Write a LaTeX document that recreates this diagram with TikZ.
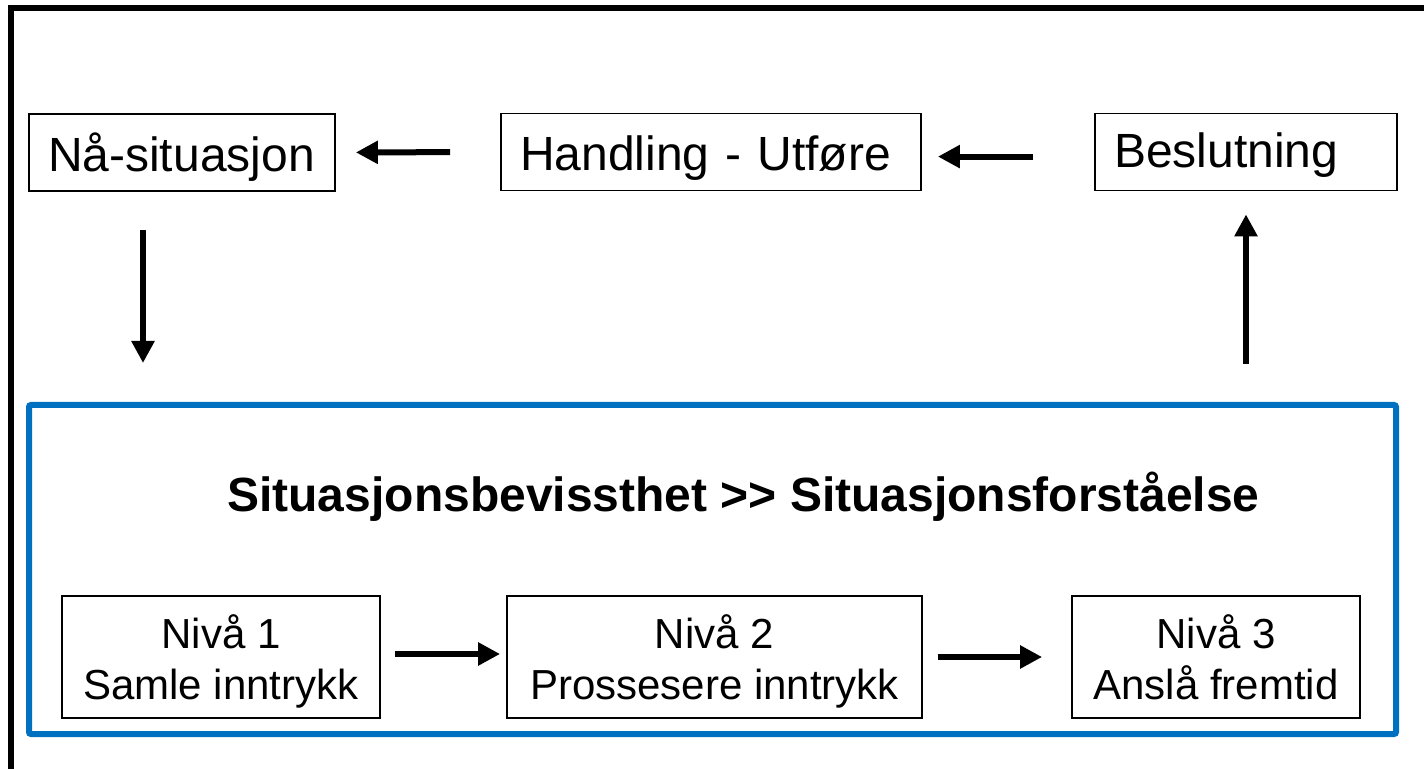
\documentclass[tikz,border=0pt]{standalone}
\usepackage{fontspec}
\setmainfont{Liberation Sans}
\usetikzlibrary{arrows.meta,calc}
\definecolor{frameblue}{RGB}{0,112,192}
\tikzset{
  topbox/.style={draw, line width=0.9pt, inner xsep=9.5pt, inner ysep=0pt, minimum height=38.5pt, align=left, text depth=0pt, font=\fontsize{24}{28}\selectfont},
  lvlbox/.style={draw, line width=0.9pt, inner sep=0pt, minimum height=61pt, align=center, font=\fontsize{21}{25.5}\selectfont},
  arr/.style={line width=3pt, -{Triangle[length=11pt,width=11pt]}},
}
\newcommand{\lvltop}{\rule[-6pt]{0pt}{29pt}}
\newcommand{\lvlstrut}{\rule[-6pt]{0pt}{21pt}}
\begin{document}
\begin{tikzpicture}[x=0.5pt,y=-0.5pt]
\useasboundingbox (0,0) rectangle (1424,769);
% outer frame lines (top and left only)
\draw[line width=2.8pt] (11,769) -- (11,8) -- (1424,8);
% blue frame
\node[draw=frameblue, line width=3pt, rounded corners=1pt, minimum width=683.5pt, minimum height=164.5pt, inner sep=0pt] (blue) at (712.5,569.5) {};
% top row
\node[topbox, text width=134pt, text height=19.5pt] (na) at (182,152.5) {Nå-situasjon};
\node[topbox, text width=191pt, text height=19pt] (han) at (711,152) {Handling - Utføre};
\node[topbox, text width=132pt, text height=15.5pt] (bes) at (1246,152) {Beslutning};
% title
\node[font=\fontsize{24}{28}\selectfont\bfseries] (title) at (743.5,497) {Situasjonsbevissthet >{}> Situasjonsforståelse};
% levels
\node[lvlbox, minimum width=159pt] (n1) at (221,657) {\lvltop Nivå 1\\\lvlstrut Samle inntrykk};
\node[lvlbox, minimum width=207.5pt] (n2) at (714.5,657) {\lvltop Nivå 2\\\lvlstrut Prossesere inntrykk};
\node[lvlbox, minimum width=144pt] (n3) at (1216,657) {\lvltop Nivå 3\\\lvlstrut Anslå fremtid};
% arrows
\draw[arr, shorten <=25pt, shorten >=10pt] (han.west) -- (na.east);
\draw[arr, shorten <=30.5pt, shorten >=8pt] ([yshift=-2.3pt]bes.west) -- ([yshift=-2.3pt]han.east);
\draw[arr, shorten <=19pt, shorten >=19.5pt] ([xshift=-19.5pt]na.south) -- ([xshift=-19.5pt]na.south |- blue.north);
\draw[arr, shorten <=19pt, shorten >=11.5pt] (bes.south |- blue.north) -- (bes.south);
\draw[arr, shorten <=7pt, shorten >=3pt] ([yshift=1.5pt]n1.east) -- ([yshift=1.5pt]n2.west);
\draw[arr, shorten <=7.5pt, shorten >=14.5pt] (n2.east) -- (n3.west);
\end{tikzpicture}
\end{document}
